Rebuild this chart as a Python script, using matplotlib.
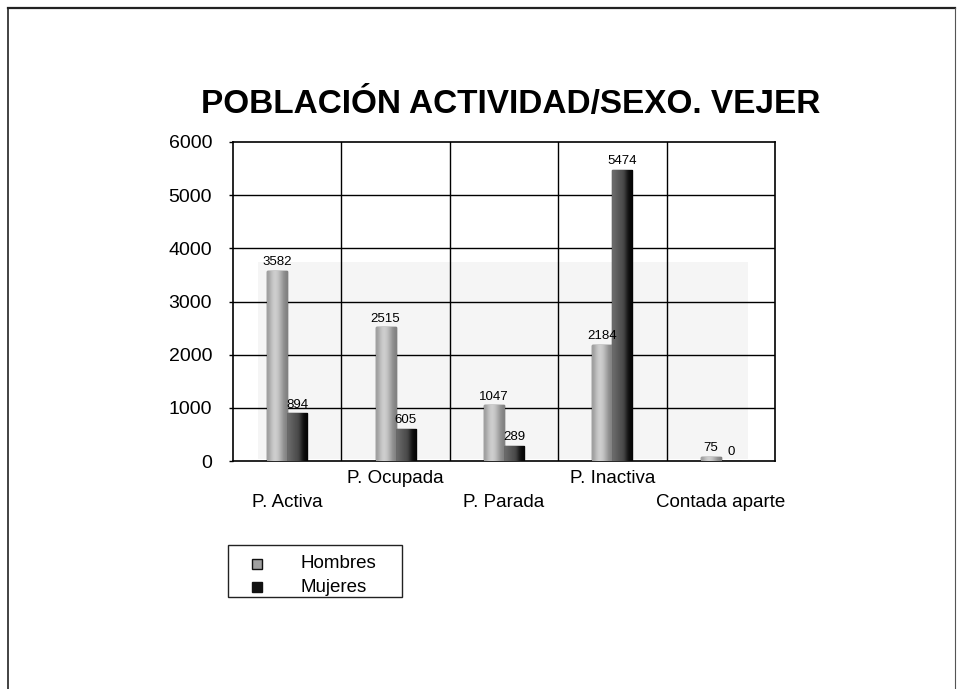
import numpy as np
import matplotlib
matplotlib.use("Agg")
import matplotlib.pyplot as plt
from matplotlib.patches import Rectangle

plt.rcParams['font.family'] = ['Liberation Sans', 'DejaVu Sans']

categorias = ["P. Activa", "P. Ocupada", "P. Parada", "P. Inactiva", "Contada aparte"]
hombres = [3582, 2515, 1047, 2184, 75]
mujeres = [894, 605, 289, 5474, 0]
series = ["Hombres", "Mujeres"]
yticks = [0, 1000, 2000, 3000, 4000, 5000, 6000]

W, H = 963, 689
fig = plt.figure(figsize=(W / 100, H / 100), dpi=100)
fig.patch.set_facecolor("white")

# sheet layer in pixel coordinates (frame, title, legend)
sheet = fig.add_axes([0, 0, 1, 1], zorder=-5)
sheet.set_xlim(0, W)
sheet.set_ylim(H, 0)
sheet.axis("off")
sheet.plot([8, 955], [8, 8], color="#222222", lw=1.6)
sheet.plot([8, 8], [8, 689], color="#222222", lw=1.2)
sheet.plot([955, 955], [8, 689], color="#555555", lw=0.8)

ax = fig.add_axes([233 / W, 1 - 461 / H, 542 / W, 319 / H])

# faint back wall
ax.add_patch(Rectangle((25 / 542, 2 / 319), 490 / 542, 197 / 319,
                       transform=ax.transAxes, facecolor="#f5f5f5",
                       edgecolor="none", zorder=0))

# grid
for yv in yticks[1:-1]:
    ax.axhline(yv, color="black", lw=1.0, zorder=1)
for xv in np.arange(0.5, len(categorias) - 0.5, 1.0):
    ax.axvline(xv, color="black", lw=1.0, zorder=1)
for s in ax.spines.values():
    s.set_color("black")
    s.set_linewidth(1.2)

x = np.arange(len(categorias))
bw = 0.185


def shade(bars, vals):
    grad = np.array([vals])
    for b in bars:
        h = b.get_height()
        if h <= 0:
            continue
        x0 = b.get_x()
        im = ax.imshow(grad, cmap="gray", vmin=0, vmax=1, aspect="auto",
                       extent=(x0, x0 + b.get_width(), 0, h),
                       interpolation="bicubic", zorder=3)
        im.set_clip_path(b)


hb = ax.bar(x - bw / 2, hombres, width=bw, color="#a8a8a8",
            edgecolor="#222222", linewidth=1.0, zorder=3)
mb = ax.bar(x + bw / 2, mujeres, width=bw, color="#3c3c3c",
            edgecolor="#111111", linewidth=1.0, zorder=3)
shade(hb, [0.62, 0.78, 0.82, 0.74, 0.6, 0.5])
shade(mb, [0.42, 0.36, 0.32, 0.28, 0.08, 0.02])
ax.set_xlim(-0.5, len(categorias) - 0.5)
ax.set_ylim(0, 6000)

for bars, vals in ((hb, hombres), (mb, mujeres)):
    for b, v in zip(bars, vals):
        ax.text(b.get_x() + b.get_width() / 2, v + 50, f"{v}", ha="center",
                va="bottom", fontsize=9.5, zorder=5)

ax.set_yticks(yticks)
ax.set_yticklabels([str(v) for v in yticks], fontsize=14)
ax.tick_params(axis="y", length=3, width=1, pad=12)
ax.set_xticks([])
for i, c in enumerate(categorias):
    dy = -0.055 if i % 2 == 1 else -0.13
    ax.text(i, dy, c, transform=ax.get_xaxis_transform(), ha="center",
            va="center", fontsize=13.5)

sheet.text(511, 104, "POBLACIÓN ACTIVIDAD/SEXO. VEJER",
           ha="center", va="center", fontsize=24, fontweight="bold")

# legend box
sheet.add_patch(Rectangle((228, 545), 174, 52, facecolor="white",
                          edgecolor="#222222", lw=1.0))
legend_faces = ["#a0a0a0", "#111111"]
for k, (name, fc) in enumerate(zip(series, legend_faces)):
    yc = 564 + 23 * k
    sheet.add_patch(Rectangle((252, yc - 5), 10, 10, facecolor=fc,
                              edgecolor="#111111", lw=1.0))
    sheet.text(300, yc, name, ha="left", va="center", fontsize=13.5)

fig.savefig("out.png", dpi=100, facecolor="white")
